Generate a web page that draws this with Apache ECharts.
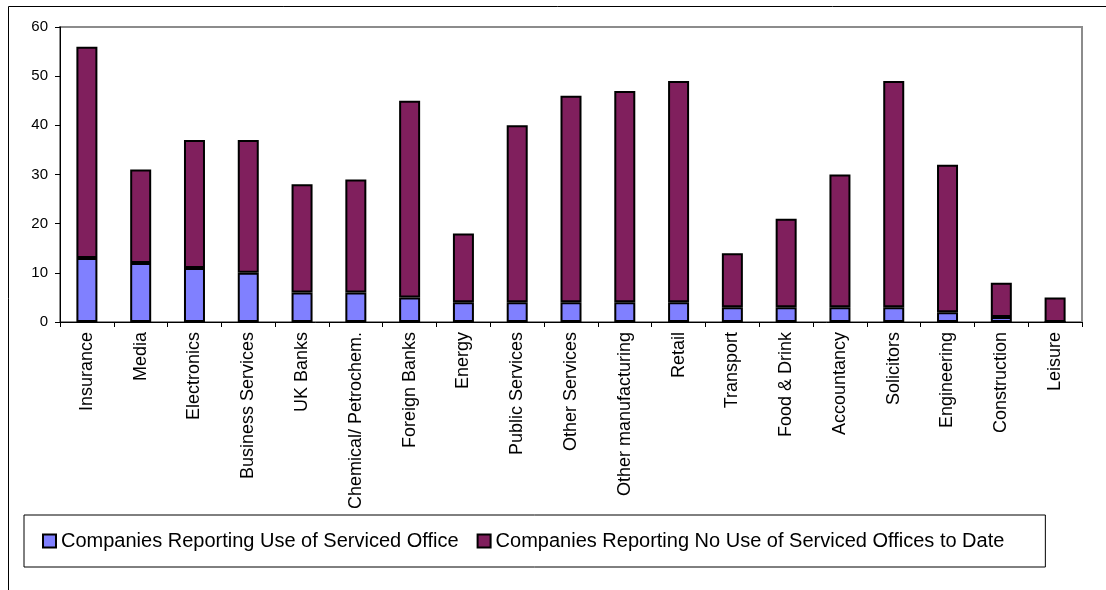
<!DOCTYPE html>
<html>
<head>
<meta charset="utf-8">
<script src="https://cdn.jsdelivr.net/npm/echarts@6/dist/echarts.min.js"></script>
<style>
  html, body { margin: 0; padding: 0; background: #fff; }
  #chart { width: 1106px; height: 590px; }
</style>
</head>
<body>
<div id="chart"></div>
<script>
// sectors, in the order shown on the x axis
var sectors = ['Insurance', 'Media', 'Electronics', 'Business Services', 'UK Banks',
    'Chemical/ Petrochem.', 'Foreign Banks', 'Energy', 'Public Services', 'Other Services',
    'Other manufacturing', 'Retail', 'Transport', 'Food & Drink', 'Accountancy',
    'Solicitors', 'Engineering', 'Construction', 'Leisure'];

// lower (blue) part of each bar
var useServiced = [13, 12, 11, 10, 6, 6, 5, 4, 4, 4, 4, 4, 3, 3, 3, 3, 2, 1, 0];

// upper (purple) part of each bar
var noUseServiced = [43, 19, 26, 27, 22, 23, 40, 14, 36, 42, 43, 45, 11, 18, 27, 46, 30, 7, 5];

var yTicks = [0, 10, 20, 30, 40, 50, 60];

var chartDom = document.getElementById('chart');
var myChart = echarts.init(chartDom, null, { renderer: 'canvas' });

var fontName = 'Liberation Sans, Arial, sans-serif';

var option = {
    backgroundColor: '#fff',
    animation: false,
    // outer chart frame (only left and top edges are visible)
    graphic: [{
        type: 'rect',
        shape: { x: 8.5, y: 6.5, width: 1200, height: 700 },
        style: { fill: 'none', stroke: '#000', lineWidth: 1 },
        silent: true
    }],
    grid: {
        left: 60,
        right: 24,
        top: 27,
        bottom: 268,
        show: true,
        borderColor: '#8c8c8c',
        borderWidth: 2
    },
    legend: {
        left: 24,
        top: 515,
        padding: [16, 41, 16, 18],
        borderColor: '#000',
        borderWidth: 1,
        itemWidth: 13,
        itemHeight: 13,
        itemGap: 18,
        icon: 'rect',
        textStyle: { fontFamily: fontName, fontSize: 20, color: '#000' },
        data: ['Companies Reporting Use of Serviced Office', 'Companies Reporting No Use of Serviced Offices to Date']
    },
    xAxis: {
        type: 'category',
        data: sectors,
        axisLine: { lineStyle: { color: '#000', width: 1 } },
        axisTick: { show: true, length: 5, lineStyle: { color: '#000' } },
        axisLabel: {
            rotate: 90,
            interval: 0,
            margin: 10,
            fontFamily: fontName,
            fontSize: 18,
            color: '#000'
        }
    },
    yAxis: {
        type: 'value',
        min: yTicks[0],
        max: yTicks[yTicks.length - 1],
        interval: 10,
        splitLine: { show: false },
        axisLine: { show: true, lineStyle: { color: '#000', width: 1 } },
        axisTick: { show: true, length: 5, lineStyle: { color: '#000' } },
        axisLabel: { fontFamily: fontName, fontSize: 15, color: '#000', margin: 12 }
    },
    series: [
        {
            name: 'Companies Reporting Use of Serviced Office',
            type: 'bar',
            stack: 'total',
            barWidth: 21,
            data: useServiced,
            itemStyle: { color: '#8080ff', borderColor: '#000', borderWidth: 2 }
        },
        {
            name: 'Companies Reporting No Use of Serviced Offices to Date',
            type: 'bar',
            stack: 'total',
            barWidth: 21,
            data: noUseServiced,
            itemStyle: { color: '#801f5d', borderColor: '#000', borderWidth: 2 }
        }
    ]
};

myChart.setOption(option);

window.addEventListener('resize', function () {
    myChart.resize();
});
</script>
</body>
</html>
